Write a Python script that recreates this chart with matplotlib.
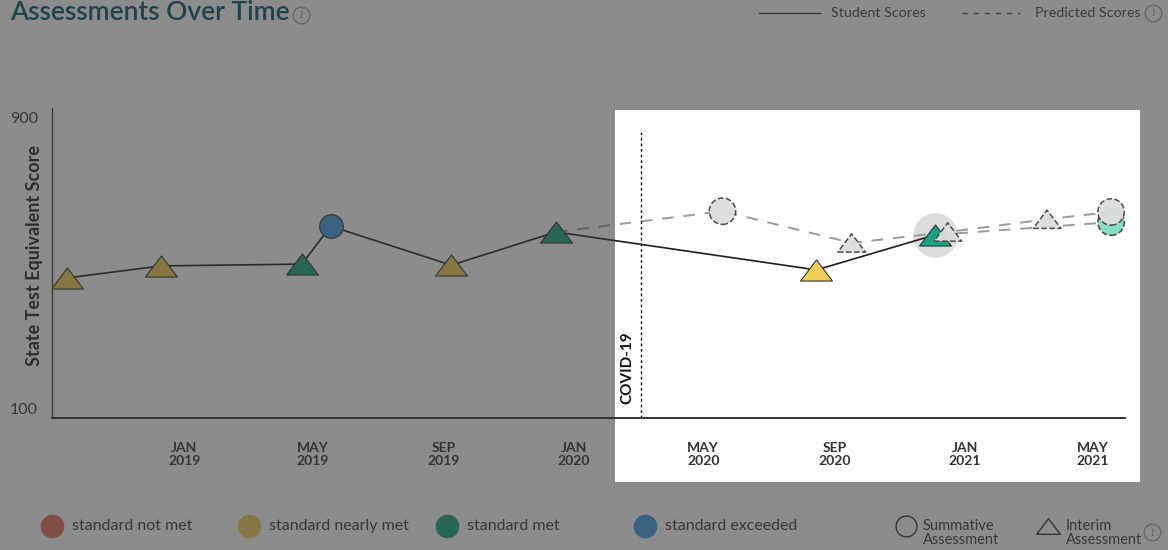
import matplotlib
matplotlib.use("Agg")
import matplotlib.pyplot as plt
import numpy as np
import pandas as pd
from matplotlib.lines import Line2D
from matplotlib.patches import Rectangle
from matplotlib.path import Path

plt.rcParams['font.family'] = ['Lato', 'DejaVu Sans']

# --- data ---
student_dates = ['2018-09-13', '2018-12-10', '2019-04-21', '2019-05-18',
                 '2019-09-08', '2019-12-15', '2020-08-15', '2020-12-04']
student_scores = [459, 492, 497, 601, 494, 585, 481, 577]
student_types = ['interim', 'interim', 'interim', 'summative',
                 'interim', 'interim', 'interim', 'interim']
student_levels = ['nearly', 'nearly', 'met', 'exceeded',
                  'nearly', 'met', 'nearly', 'met']

pred_dates = ['2019-12-15', '2020-05-19', '2020-09-17', '2020-12-16',
              '2021-03-19', '2021-05-18']
pred_scores = [585, 642, 555, 585, 620, 640]
pred_types = [None, 'summative', 'interim', 'interim', 'interim', 'summative']

pred2_dates = ['2020-12-04', '2021-05-18']
pred2_scores = [577, 612]

tick_dates = ['2019-01-01', '2019-05-01', '2019-09-01', '2020-01-01',
              '2020-05-01', '2020-09-01', '2021-01-01', '2021-05-01']
tick_labels = ['JAN\n2019', 'MAY\n2019', 'SEP\n2019', 'JAN\n2020',
               'MAY\n2020', 'SEP\n2020', 'JAN\n2021', 'MAY\n2021']

covid_date = '2020-03-04'

level_names = ['standard not met', 'standard nearly met', 'standard met', 'standard exceeded']
level_colors = {'notmet': '#e4715f', 'nearly': '#f0cd55', 'met': '#15a583', 'exceeded': '#3f9ee6'}

# flattened triangle marker
tri = Path([(-1, -0.66), (1, -0.66), (0, 0.66), (-1, -0.66)],
           [Path.MOVETO, Path.LINETO, Path.LINETO, Path.CLOSEPOLY])


def marker_for(kind):
    return tri if kind == 'interim' else 'o'


fig = plt.figure(figsize=(11.68, 5.5), dpi=100)
ax = fig.add_axes([52 / 1168, 1 - 418 / 550, (1125 - 52) / 1168, (418 - 108) / 550])

sd = pd.to_datetime(student_dates)
pdx = pd.to_datetime(pred_dates)
pd2 = pd.to_datetime(pred2_dates)

# highlight behind the latest score
ax.plot(sd[-1], student_scores[-1], 'o', ms=32, color='#dcdcdc', mec='none', zorder=2)

# predicted lines
ax.plot(pdx, pred_scores, ls=(0, (6, 5)), color='#9a9a9a', lw=1.4, zorder=3)
ax.plot(pd2, pred2_scores, ls=(0, (6, 5)), color='#9a9a9a', lw=1.4, zorder=3)

# student line
ax.plot(sd, student_scores, color='#1e1e1e', lw=1.2, zorder=4)

for d, v, t, lv in zip(sd, student_scores, student_types, student_levels):
    ms = 17 if t == 'summative' else 23
    ax.plot(d, v, marker=marker_for(t), ms=ms, color=level_colors[lv],
            mec='#333333', mew=0.8, ls='none', zorder=5)

# predicted markers (dashed outline)
ax.scatter(pd2[-1:], pred2_scores[-1:], s=19 ** 2, marker='o', color='#85dec6',
           edgecolors='#444444', linewidths=1.1, linestyle='--', zorder=6)
for d, v, t in zip(pdx, pred_scores, pred_types):
    if t is None:
        continue
    s = 19 ** 2 if t == 'summative' else 20 ** 2
    ax.scatter([d], [v], s=s, marker=marker_for(t), color='#dddddd', alpha=0.95,
               edgecolors='#444444', linewidths=1.1, linestyle='--', zorder=7)

# covid marker
cd = pd.to_datetime(covid_date)
ax.axvline(cd, ymin=0, ymax=(418 - 132) / 310, color='#111111', ls=(0, (2, 2)), lw=1.0, zorder=3)
ax.text(cd - pd.Timedelta(days=13), 114, 'COVID-19', rotation=90, ha='center', va='bottom',
        fontsize=11, fontweight='bold', color='#111111')

ax.set_ylim(75, 925)
ax.set_xlim(pd.Timestamp('2018-08-30'), pd.Timestamp('2021-05-31'))
ax.set_yticks([100, 900])
ax.set_yticklabels(['100', '900'], fontsize=11.5, color='#3a3a3a')
ax.set_xticks(pd.to_datetime(tick_dates))
ax.set_xticklabels(tick_labels, fontsize=10, fontweight='bold', color='#333333', linespacing=1.15)
ax.tick_params(axis='both', length=0)
ax.tick_params(axis='x', pad=17)
ax.tick_params(axis='y', pad=10)
for s in ['top', 'right']:
    ax.spines[s].set_visible(False)
ax.spines['left'].set_color('#444444')
ax.spines['bottom'].set_color('#222222')
ax.spines['left'].set_linewidth(1.0)
ax.spines['bottom'].set_linewidth(1.3)
ax.set_ylabel('State Test Equivalent Score', fontsize=13, fontweight='bold', color='#222222')
ax.yaxis.set_label_coords(-9 / 1073, (418 - 256) / 310)

W, H = 1168, 550


def fx(px):
    return px / W


def fy(py):
    return 1 - py / H


def info_icon(px, py):
    fig.add_artist(Line2D([fx(px)], [fy(py)], marker='o', ms=12, mfc='none', mec='#a8a8a8',
                          mew=1.0, transform=fig.transFigure))
    fig.text(fx(px), fy(py), 'i', ha='center', va='center', fontsize=9, style='italic',
             color='#a8a8a8', family='DejaVu Serif')


# title
fig.text(fx(10), fy(13), 'Assessments Over Time', fontsize=19, color='#05546a',
         ha='left', va='center', fontweight='semibold')
info_icon(301, 15)

# top legend
fig.add_artist(Line2D([fx(759), fx(820)], [fy(13), fy(13)], color='#333333', lw=1.0,
                      transform=fig.transFigure))
fig.text(fx(831), fy(13), 'Student Scores', fontsize=10.3, color='#444444', va='center', ha='left')
fig.add_artist(Line2D([fx(962), fx(1020)], [fy(13), fy(13)], color='#555555', lw=1.0,
                      ls=(0, (4, 4)), transform=fig.transFigure))
fig.text(fx(1035), fy(13), 'Predicted Scores', fontsize=10.3, color='#444444', va='center', ha='left')
info_icon(1153, 13)

# bottom legend
leg_x = [52, 249, 447, 645]
leg_cols = [level_colors['notmet'], level_colors['nearly'], level_colors['met'], level_colors['exceeded']]
for x0, name, c in zip(leg_x, level_names, leg_cols):
    fig.add_artist(Line2D([fx(x0)], [fy(526)], marker='o', ms=17, color=c, mec='none',
                          transform=fig.transFigure))
    fig.text(fx(x0 + 20), fy(526), name, fontsize=11.5, color='#3a3a3a', va='center', ha='left')

fig.add_artist(Line2D([fx(906)], [fy(526)], marker='o', ms=15, mfc='none', mec='#333333',
                      mew=1.0, transform=fig.transFigure))
fig.text(fx(923), fy(533), 'Summative\nAssessment', fontsize=10.5, color='#3a3a3a',
         va='center', ha='left', linespacing=1.05)
fig.add_artist(Line2D([fx(1048)], [fy(526)], marker=tri, ms=17, mfc='none', mec='#333333',
                      mew=1.0, transform=fig.transFigure))
fig.text(fx(1066), fy(533), 'Interim\nAssessment', fontsize=10.5, color='#3a3a3a',
         va='center', ha='left', linespacing=1.05)
info_icon(1152, 532)

# dimming overlay with a spotlight window
hx0, hx1, hy0, hy1 = fx(615), fx(1140), fy(482), fy(110)
for (x, y, w, h) in [(0, 0, hx0, 1), (hx1, 0, 1 - hx1, 1),
                     (hx0, hy1, hx1 - hx0, 1 - hy1), (hx0, 0, hx1 - hx0, hy0)]:
    fig.add_artist(Rectangle((x, y), w, h, transform=fig.transFigure, facecolor='#353535',
                             alpha=0.57, edgecolor='none', antialiased=False, zorder=20))

fig.savefig('out.png', dpi=100)
